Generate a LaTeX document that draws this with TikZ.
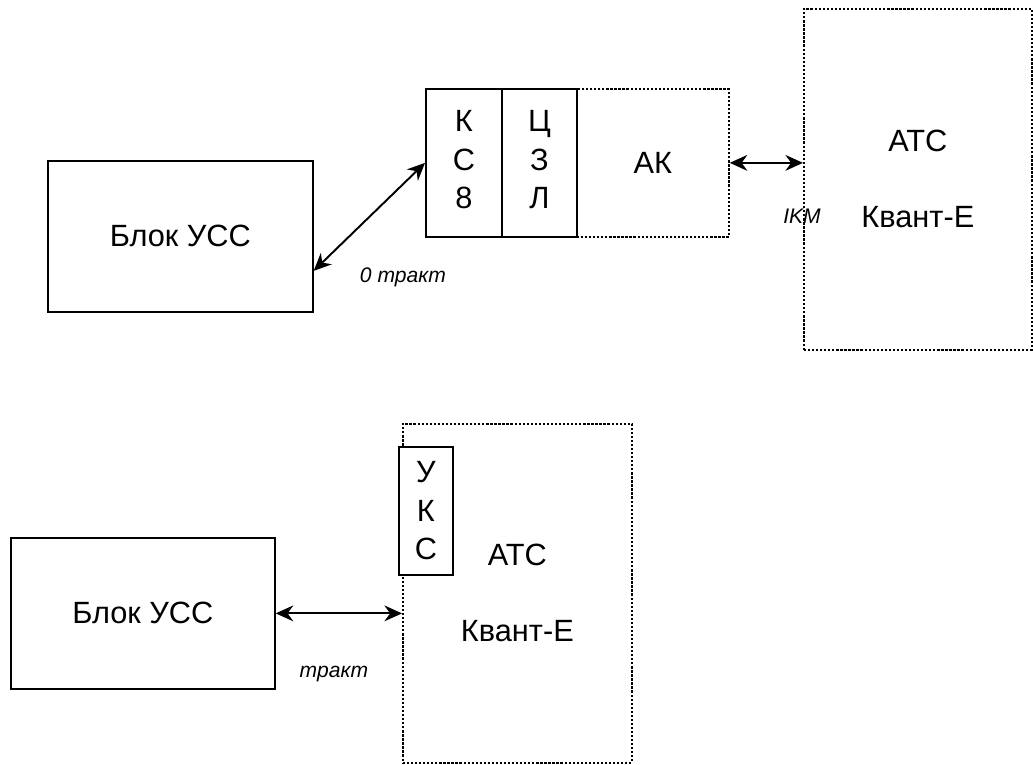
\documentclass[tikz,border=0pt]{standalone}
\usepackage{fontspec}
\setmainfont{Liberation Sans}
\usetikzlibrary{arrows.meta,calc}
\tikzset{
  solidbox/.style={draw=black, line width=1pt, fill=white, inner sep=0pt, anchor=north west},
  dotbox/.style={draw=black, line width=1pt, dash pattern=on 1.3pt off 1pt, inner sep=0pt, anchor=north west},
  maintext/.style={font=\fontsize{17.5}{22}\selectfont, align=center, inner sep=0pt},
  lbl/.style={font=\fontsize{12}{14}\selectfont\itshape, inner sep=0pt, anchor=base},
  link/.style={line width=1.1pt, {Stealth[length=10pt,width=9pt]}-{Stealth[length=10pt,width=9pt]}}
}
\begin{document}
\begin{tikzpicture}[x=0.02cm,y=-0.02cm]
\useasboundingbox (0,0) rectangle (1033,764);
% top diagram
\node[solidbox, minimum width=5.3cm, minimum height=3.02cm] (blok1) at (47,160) {};
\node[maintext] (blok1t) at (blok1.center) {Блок УСС};
\node[dotbox, minimum width=3.04cm, minimum height=2.96cm] (ak) at (576,88) {};
\node[maintext] (akt) at (ak.center) {АК};
\node[solidbox, minimum width=1.52cm, minimum height=2.96cm] (ks) at (425,88) {};
\node[maintext] (kst) at ([yshift=0.06cm]ks.center) {К\\С\\8};
\node[solidbox, minimum width=1.5cm, minimum height=2.96cm] (czl) at (501,88) {};
\node[maintext] (czlt) at ([yshift=0.06cm]czl.center) {Ц\\З\\Л};
\node[dotbox, minimum width=4.56cm, minimum height=6.82cm] (atc1) at (803,8) {};
\node[maintext] (atc1a) at ([yshift=0.76cm]atc1.center) {АТС};
\node[maintext] (atc1b) at ([yshift=-0.76cm]atc1.center) {Квант-Е};
\draw[link] ([yshift=-0.69cm]blok1.east) -- (ks.west);
\draw[link] (ak.east) -- (ak.east -| atc1.west);
\node[lbl] (l0) at (403,282) {0 тракт};
\node[lbl] (ikm) at (802,223) {IKM};
% bottom diagram
\node[solidbox, minimum width=5.28cm, minimum height=3.02cm] (blok2) at (10,537) {};
\node[maintext] (blok2t) at (blok2.center) {Блок УСС};
\node[dotbox, minimum width=4.58cm, minimum height=6.78cm] (atc2) at (402,423) {};
\node[maintext] (atc2a) at ([yshift=0.76cm]atc2.center) {АТС};
\node[maintext] (atc2b) at ([yshift=-0.76cm]atc2.center) {Квант-Е};
\node[solidbox, minimum width=1.08cm, minimum height=2.56cm] (uks) at (398,446) {};
\node[maintext] (ukst) at (uks.center) {У\\К\\С};
\draw[link] (blok2.east) -- (blok2.east -| atc2.west);
\node[lbl] (l1) at (334,677) {тракт};
\end{tikzpicture}
\end{document}
